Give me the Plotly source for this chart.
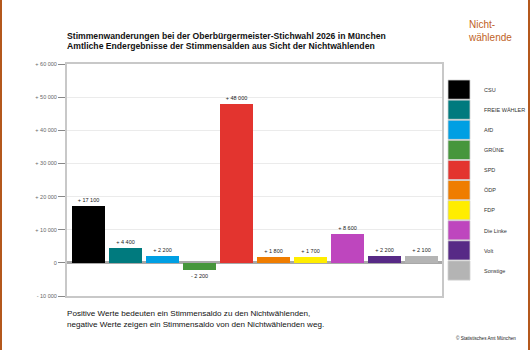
import plotly.graph_objects as go

categories = ["CSU", "FREIE WÄHLER", "AfD", "GRÜNE", "SPD", "ÖDP", "FDP", "Die Linke", "Volt", "Sonstige"]
values = [17100, 4400, 2200, -2200, 48000, 1800, 1700, 8600, 2200, 2100]
colors = ["#000000", "#007a7e", "#009fe3", "#46963c", "#e3342f", "#ef7d00", "#ffed00", "#be46be", "#572a86", "#b4b4b4"]
tick_vals = [-10000, 0, 10000, 20000, 30000, 40000, 50000, 60000]

W, H = 530, 350
L, R, T, B = 67, 442, 64, 296


def fmt(v):
    if v == 0:
        return "0"
    s = f"{abs(v):,}".replace(",", " ")
    return ("+ " if v > 0 else "- ") + s


def px(x):
    return (x - L) / (R - L)


def py(y):
    return (B - y) / (B - T)


FONT = "Liberation Sans, Arial, sans-serif"

fig = go.Figure()
fig.add_trace(go.Bar(
    x=list(range(len(categories))),
    y=values,
    marker=dict(color=colors, line=dict(width=0)),
    width=0.89,
    text=[fmt(v) for v in values],
    textposition="outside",
    textfont=dict(size=5.5, color="#222222", family=FONT),
    cliponaxis=False,
    hoverinfo="skip",
    showlegend=False,
))

fig.update_xaxes(
    range=[-0.58, 9.55], showticklabels=False, showgrid=False, zeroline=False,
    showline=True, mirror=True, linecolor="#c8c8c8", linewidth=2, fixedrange=True,
)
fig.update_yaxes(
    range=[-10000, 60000], tickvals=tick_vals, ticktext=[fmt(v) for v in tick_vals],
    showgrid=True, gridcolor="#ebebeb", gridwidth=1,
    zeroline=True, zerolinecolor="#a8a8a8", zerolinewidth=3,
    showline=True, mirror=True, linecolor="#c8c8c8", linewidth=2,
    ticks="outside", ticklen=7, tickcolor="#888888", tickwidth=1,
    tickfont=dict(size=5.5, color="#666666", family=FONT),
    fixedrange=True,
)

shapes = []
annotations = []
# side borders
shapes.append(dict(type="rect", xref="paper", yref="paper", x0=px(0), x1=px(2), y0=py(350), y1=py(0),
                   fillcolor="#b4581c", line=dict(width=0), layer="above"))
shapes.append(dict(type="rect", xref="paper", yref="paper", x0=px(528), x1=px(530), y0=py(350), y1=py(0),
                   fillcolor="#b4581c", line=dict(width=0), layer="above"))

# legend swatches
for i, lab in enumerate(categories):
    y0 = 80 + i * 20.1
    shapes.append(dict(type="rect", xref="paper", yref="paper",
                       x0=px(448), x1=px(470), y0=py(y0 + 19.2), y1=py(y0),
                       fillcolor=colors[i], line=dict(color="#d0d0d0", width=0.8)))
    annotations.append(dict(xref="paper", yref="paper", x=px(482), y=py(y0 + 9.8),
                            text=lab, showarrow=False, xanchor="left", yanchor="middle",
                            font=dict(size=5.5, color="#333333", family=FONT)))

# titles
annotations.append(dict(xref="paper", yref="paper", x=px(65), y=py(35.5),
                        text="<b>Stimmenwanderungen bei der Oberbürgermeister-Stichwahl 2026 in München</b>",
                        showarrow=False, xanchor="left", yanchor="middle",
                        font=dict(size=8.65, color="#111111", family=FONT)))
annotations.append(dict(xref="paper", yref="paper", x=px(65), y=py(46),
                        text="<b>Amtliche Endergebnisse der Stimmensalden aus Sicht der Nichtwählenden</b>",
                        showarrow=False, xanchor="left", yanchor="middle",
                        font=dict(size=8.65, color="#111111", family=FONT)))
annotations.append(dict(xref="paper", yref="paper", x=px(466), y=py(31),
                        text="Nicht-<br>wählende", align="left",
                        showarrow=False, xanchor="left", yanchor="middle",
                        font=dict(size=10, color="#c0621e", family=FONT)))
annotations.append(dict(xref="paper", yref="paper", x=px(65), y=py(318.5),
                        text="Positive Werte bedeuten ein Stimmensaldo zu den Nichtwählenden,<br>"
                             "negative Werte zeigen ein Stimmensaldo von den Nichtwählenden weg.",
                        align="left", showarrow=False, xanchor="left", yanchor="middle",
                        font=dict(size=8.1, color="#111111", family=FONT)))
annotations.append(dict(xref="paper", yref="paper", x=px(518), y=py(338),
                        text="© Statistisches Amt München",
                        showarrow=False, xanchor="right", yanchor="middle",
                        font=dict(size=4.6, color="#222222", family=FONT)))

fig.update_layout(
    width=W, height=H,
    margin=dict(l=L, r=W - R, t=T, b=H - B, pad=0),
    paper_bgcolor="white", plot_bgcolor="white",
    shapes=shapes, annotations=annotations,
    bargap=0, showlegend=False,
)

fig.write_html("out.html", config={"displayModeBar": False})
